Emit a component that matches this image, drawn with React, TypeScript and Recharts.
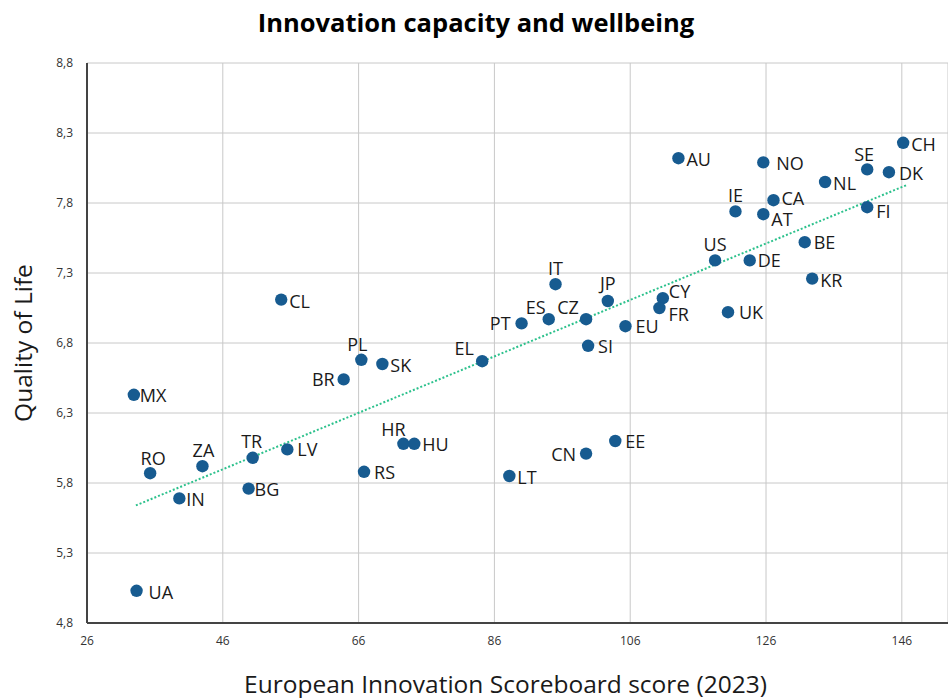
import { ScatterChart, Scatter, XAxis, YAxis, CartesianGrid } from 'recharts'

// Country codes with EIS 2023 score (x) and quality of life index (y)
const countries = [
  'MX', 'RO', 'ZA', 'IN', 'TR', 'LV', 'BG', 'UA', 'BR', 'RS', 'HR', 'HU', 'CL', 'PL', 'SK',
  'EL', 'LT', 'CN', 'EE', 'IT', 'JP', 'ES', 'PT', 'CZ', 'EU', 'SI', 'AU', 'NO', 'CH', 'SE',
  'DK', 'NL', 'CA', 'IE', 'AT', 'FI', 'BE', 'US', 'DE', 'KR', 'CY', 'FR', 'UK',
]
const innovation = [
  32.9, 35.3, 43.0, 39.6, 50.4, 55.5, 49.8, 33.3, 63.8, 66.8, 72.6, 74.2, 54.6, 66.4, 69.5,
  84.2, 88.2, 99.5, 103.8, 95.0, 102.7, 94.0, 90.0, 99.5, 105.3, 99.8, 113.1, 125.6, 146.2, 140.9,
  144.1, 134.7, 127.1, 121.5, 125.6, 140.9, 131.7, 118.5, 123.6, 132.8, 110.8, 110.3, 120.4,
]
const quality = [
  6.43, 5.87, 5.92, 5.69, 5.98, 6.04, 5.76, 5.03, 6.54, 5.88, 6.08, 6.08, 7.11, 6.68, 6.65,
  6.67, 5.85, 6.01, 6.10, 7.22, 7.10, 6.97, 6.94, 6.97, 6.92, 6.78, 8.12, 8.09, 8.23, 8.04,
  8.02, 7.95, 7.82, 7.74, 7.72, 7.77, 7.52, 7.39, 7.39, 7.26, 7.12, 7.05, 7.02,
]

// linear trendline end points
const trendX = [33.2, 146.8]
const trendY = [5.64, 7.93]

const xTicks = [26, 46, 66, 86, 106, 126, 146]
const yTicks = [4.8, 5.3, 5.8, 6.3, 6.8, 7.3, 7.8, 8.3, 8.8]

const DOT = '#175b90'
const TREND = '#2cc18c'
const INK = '#1a1a1a'
const FONT = '"Open Sans", sans-serif'

// label offset from the dot centre: dx, dy, anchor
const LABEL_AT: Record<string, [number, number, 'start' | 'middle' | 'end']> = {
  MX: [6, 0, 'start'], RO: [3, -15, 'middle'], ZA: [1, -16, 'middle'], IN: [7, 1, 'start'],
  TR: [-1, -17, 'middle'], LV: [10, 0, 'start'], BG: [6, 0, 'start'], UA: [12, 1, 'start'],
  BR: [-9, 0, 'end'], RS: [10, 0, 'start'], HR: [-10, -15, 'middle'], HU: [8, 0, 'start'],
  CL: [8, 1, 'start'], PL: [-4, -16, 'middle'], SK: [8, 1, 'start'], EL: [-18, -13, 'middle'],
  LT: [8, 1, 'start'], CN: [-10, 0, 'end'], EE: [10, 0, 'start'], IT: [0, -16, 'middle'],
  JP: [0, -18, 'middle'], ES: [-13, -12, 'middle'], PT: [-11, 0, 'end'], CZ: [-18, -12, 'middle'],
  EU: [10, 0, 'start'], SI: [10, 0, 'start'], AU: [8, 1, 'start'], NO: [13, 1, 'start'],
  CH: [8, 1, 'start'], SE: [-3, -15, 'middle'], DK: [10, 1, 'start'], NL: [8, 1, 'start'],
  CA: [8, -2, 'start'], IE: [0, -16, 'middle'], AT: [8, 5, 'start'], FI: [9, 4, 'start'],
  BE: [9, 0, 'start'], US: [0, -16, 'middle'], DE: [8, 0, 'start'], KR: [8, 1, 'start'],
  CY: [6, -7, 'start'], FR: [9, 6, 'start'], UK: [11, 0, 'start'],
}

const points = countries.map((code, i) => ({ code, x: innovation[i], y: quality[i] }))
const trend = trendX.map((x, i) => ({ x, y: trendY[i] }))

function CountryDot(props: any) {
  const { cx, cy, payload } = props
  const [dx, dy, anchor] = LABEL_AT[payload.code] ?? [8, 0, 'start']
  return (
    <g>
      <circle cx={cx} cy={cy} r={6.2} fill={DOT} />
      <text
        x={cx + dx}
        y={cy + dy}
        textAnchor={anchor}
        dominantBaseline="central"
        fontSize={18}
        fontFamily={FONT}
        fill={INK}
      >
        {payload.code}
      </text>
    </g>
  )
}

function XTitle({ viewBox }: any) {
  return (
    <text
      x={viewBox.x + viewBox.width / 2 - 12}
      y={viewBox.y + viewBox.height - 15}
      textAnchor="middle"
      dominantBaseline="central"
      fontSize={24.5}
      fontFamily={FONT}
      fill={INK}
    >
      European Innovation Scoreboard score (2023)
    </text>
  )
}

function YTitle({ viewBox }: any) {
  const cx = 22
  const cy = viewBox.y + viewBox.height / 2
  return (
    <text
      x={cx}
      y={cy}
      transform={`rotate(-90, ${cx}, ${cy})`}
      textAnchor="middle"
      dominantBaseline="central"
      fontSize={24.5}
      fontFamily={FONT}
      fill={INK}
    >
      Quality of Life
    </text>
  )
}

export default function App() {
  return (
    <div style={{ position: 'absolute', left: 0, top: 0, width: 948, height: 698, background: '#fff', fontFamily: FONT }}>
      <div
        style={{
          position: 'absolute', left: 0, top: 5, width: 952, textAlign: 'center',
          fontSize: 25.5, fontWeight: 700, color: '#000', lineHeight: '34px',
        }}
      >
        Innovation capacity and wellbeing
      </div>
      <ScatterChart width={948} height={698} margin={{ top: 63, right: 0, bottom: 0, left: 0 }}>
        <CartesianGrid stroke="#c8c8c8" strokeWidth={1} />
        <XAxis
          type="number"
          dataKey="x"
          domain={[26, 152.8]}
          ticks={xTicks}
          height={75}
          tickLine={false}
          tickMargin={7}
          axisLine={{ stroke: '#444', strokeWidth: 2 }}
          tick={{ fontSize: 12, fill: '#333', fontFamily: FONT }}
          label={<XTitle />}
        />
        <YAxis
          type="number"
          dataKey="y"
          domain={[4.8, 8.8]}
          ticks={yTicks}
          width={87}
          tickLine={false}
          tickMargin={8}
          axisLine={{ stroke: '#444', strokeWidth: 2 }}
          tick={{ fontSize: 12, fill: '#333', fontFamily: FONT }}
          tickFormatter={(v: number) => v.toFixed(1).replace('.', ',')}
          label={<YTitle />}
        />
        <Scatter
          data={trend}
          fill="none"
          stroke={TREND}
          line={{ stroke: TREND, strokeWidth: 2, strokeDasharray: '2 2' }}
          shape={() => <g />}
          isAnimationActive={false}
        />
        <Scatter data={points} shape={<CountryDot />} isAnimationActive={false} />
      </ScatterChart>
    </div>
  )
}
